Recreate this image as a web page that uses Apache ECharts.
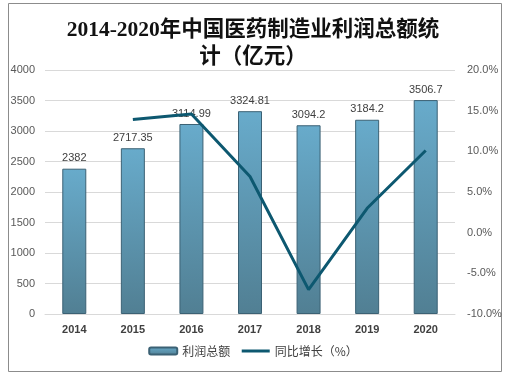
<!DOCTYPE html>
<html>
<head>
<meta charset="utf-8">
<script src="https://cdn.jsdelivr.net/npm/echarts@6/dist/echarts.min.js"></script>
<style>
html, body { margin: 0; padding: 0; background: #fff; }
#chart { width: 506px; height: 376px; }
</style>
</head>
<body>
<div id="chart"></div>
<script>
var years = ['2014', '2015', '2016', '2017', '2018', '2019', '2020'];
var profit = [2382, 2717.35, 3114.99, 3324.81, 3094.2, 3184.2, 3506.7];
var growth = [null, 13.9, 14.6, 6.9, -7.0, 3.0, 10.1];

var myChart = echarts.init(document.getElementById('chart'));
var option = {
    backgroundColor: '#fff',
    title: {
        text: '2014-2020年中国医药制造业利润总额统\n计（亿元）',
        left: 'center',
        top: 12,
        textStyle: {
            fontFamily: '"Liberation Serif", "Noto Sans CJK SC"',
            fontSize: 21.5,
            fontWeight: 'bold',
            color: '#111',
            lineHeight: 27
        }
    },
    graphic: [{
        type: 'rect',
        shape: { x: 8.5, y: 3.5, width: 493, height: 368 },
        style: { fill: 'none', stroke: '#8c8c8c', lineWidth: 1 },
        silent: true
    }],
    legend: {
        bottom: 14,
        left: 'center',
        itemGap: 10,
        itemWidth: 28,
        itemHeight: 7,
        textStyle: { fontSize: 12, color: '#404040', fontFamily: '"Noto Sans CJK SC"' },
        data: [
            { name: '利润总额' },
            {
                name: '同比增长（%）',
                itemStyle: { opacity: 0 },
                lineStyle: { width: 3, color: '#0d5870' }
            }
        ]
    },
    grid: { left: 45, right: 51, top: 70, bottom: 62 },
    xAxis: {
        type: 'category',
        data: years,
        axisTick: { show: false },
        axisLine: { lineStyle: { color: '#d9d9d9' } },
        axisLabel: { color: '#404040', fontSize: 11, fontWeight: 'bold', margin: 10 }
    },
    yAxis: [{
        type: 'value',
        min: 0,
        max: 4000,
        interval: 500,
        axisLine: { show: false },
        axisTick: { show: false },
        splitLine: { lineStyle: { color: '#d9d9d9' } },
        axisLabel: {
            color: '#595959', fontSize: 11, margin: 10,
            formatter: function (v) { return String(v); }
        }
    }, {
        type: 'value',
        min: -10,
        max: 20,
        interval: 5,
        axisLine: { show: false },
        axisTick: { show: false },
        splitLine: { show: false },
        axisLabel: {
            color: '#595959', fontSize: 11, margin: 12,
            formatter: function (v) { return v.toFixed(1) + '%'; }
        }
    }],
    series: [{
        name: '利润总额',
        type: 'bar',
        barWidth: 24,
        data: profit,
        itemStyle: {
            color: new echarts.graphic.LinearGradient(0, 0, 0, 1, [
                { offset: 0, color: '#68abcb' },
                { offset: 1, color: '#517f93' }
            ]),
            borderColor: '#3b6174',
            borderWidth: 1
        },
        label: {
            show: true,
            position: 'top',
            distance: 5,
            color: '#404040',
            fontSize: 11
        }
    }, {
        name: '同比增长（%）',
        type: 'line',
        yAxisIndex: 1,
        data: growth,
        symbol: 'none',
        connectNulls: false,
        lineStyle: { color: '#0d5870', width: 3 },
        itemStyle: { color: '#0d5870' },
        z: 5
    }]
};
myChart.setOption(option);
</script>
</body>
</html>
